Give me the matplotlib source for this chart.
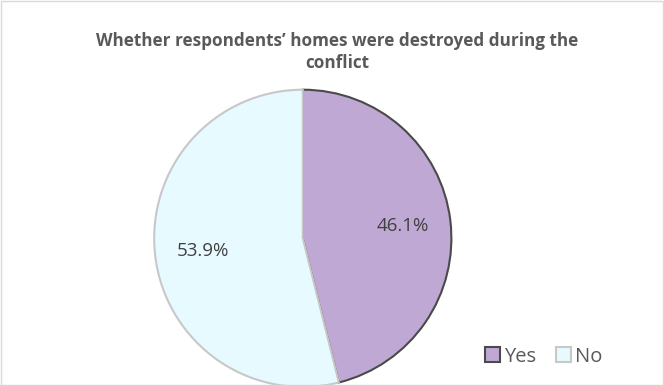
import matplotlib.pyplot as plt
from matplotlib.patches import Rectangle

labels = ['Yes', 'No']
values = [46.1, 53.9]
colors = ['#BFA9D4', '#E6FAFF']
edges = ['#4a4a4a', '#c8c8c8']

plt.rcParams['font.family'] = ['Open Sans', 'DejaVu Sans']

fig = plt.figure(figsize=(6.64, 3.85), dpi=100)
fig.patch.set_facecolor('white')
fig.patches.append(Rectangle((0.001, 0.001), 0.997, 0.997, transform=fig.transFigure,
                             fill=False, edgecolor='#d9d9d9', linewidth=1))

ax = fig.add_axes([0.230, -0.005, 0.452, 0.772])
wedges, texts, autotexts = ax.pie(values, colors=colors, startangle=90, counterclock=False,
                                  autopct='%.1f%%', pctdistance=0.68,
                                  textprops={'fontsize': 13.5, 'color': '#404040'})
for w, ec in zip(wedges, edges):
    w.set_edgecolor(ec)
    w.set_linewidth(1.5)
ax.set_xlim(-1.0, 1.0)
ax.set_ylim(-1.0, 1.0)
ax.set_aspect('equal')

fig.text(0.508, 0.865, 'Whether respondents\u2019 homes were destroyed during the\nconflict',
         ha='center', va='center', fontsize=12.3, fontweight='bold', color='#595959',
         linespacing=1.25)

fig.legend(wedges, labels, loc='lower right', bbox_to_anchor=(0.935, 0.0), ncol=2,
           frameon=False, fontsize=14.5, handlelength=0.75, handleheight=0.75,
           handletextpad=0.2, columnspacing=1.0, labelcolor='#595959')

plt.savefig('out.png', dpi=100)
